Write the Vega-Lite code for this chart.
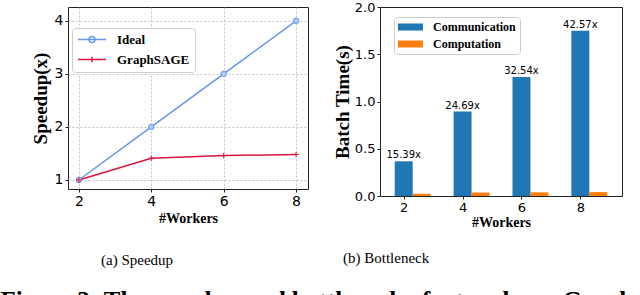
{
  "$schema": "https://vega.github.io/schema/vega-lite/v6.json",
  "background": "white",
  "padding": {"left": 0, "top": 0, "right": 5, "bottom": 0},
  "autosize": {"type": "pad"},
  "title": {"text": "Figure 3: The speedup and bottleneck of a two-layer Graph", "orient": "bottom", "anchor": "start", "font": "Liberation Serif", "fontSize": 25, "fontWeight": "bold", "color": "black", "offset": 20, "dx": -30},
  "datasets": {
    "speedup": [
      {"workers": 2, "speedup": 1.0, "method": "Ideal"},
      {"workers": 4, "speedup": 2.0, "method": "Ideal"},
      {"workers": 6, "speedup": 3.0, "method": "Ideal"},
      {"workers": 8, "speedup": 4.0, "method": "Ideal"},
      {"workers": 2, "speedup": 1.0, "method": "GraphSAGE"},
      {"workers": 4, "speedup": 1.41, "method": "GraphSAGE"},
      {"workers": 6, "speedup": 1.46, "method": "GraphSAGE"},
      {"workers": 8, "speedup": 1.48, "method": "GraphSAGE"}
    ],
    "bottleneck": [
      {"workers": "2", "part": "Communication", "time": 0.367, "ratio": "15.39x"},
      {"workers": "4", "part": "Communication", "time": 0.894, "ratio": "24.69x"},
      {"workers": "6", "part": "Communication", "time": 1.258, "ratio": "32.54x"},
      {"workers": "8", "part": "Communication", "time": 1.749, "ratio": "42.57x"},
      {"workers": "2", "part": "Computation", "time": 0.024, "ratio": ""},
      {"workers": "4", "part": "Computation", "time": 0.036, "ratio": ""},
      {"workers": "6", "part": "Computation", "time": 0.039, "ratio": ""},
      {"workers": "8", "part": "Computation", "time": 0.041, "ratio": ""}
    ]
  },
  "spacing": 23,
  "resolve": {"scale": {"color": "independent", "shape": "independent"}, "legend": {"color": "independent", "shape": "independent"}},
  "hconcat": [
    {
      "width": 240,
      "height": 182,
      "title": {"text": "(a)  Speedup", "orient": "bottom", "anchor": "start", "frame": "group", "dx": 33, "offset": 28, "font": "Liberation Serif", "fontSize": 15, "fontWeight": "normal", "color": "black"},
      "data": {"name": "speedup"},
      "encoding": {
        "x": {"field": "workers", "type": "quantitative", "scale": {"domain": [1.7, 8.33], "nice": false, "zero": false},
          "axis": {"values": [2, 4, 6, 8], "title": "#Workers", "grid": true, "gridDash": [2, 2], "gridColor": "#aaaaaa", "gridWidth": 0.7, "titlePadding": 3}},
        "y": {"field": "speedup", "type": "quantitative", "scale": {"domain": [0.83, 4.26], "nice": false, "zero": false},
          "axis": {"values": [1, 2, 3, 4], "format": "d", "title": "Speedup(x)", "grid": true, "gridDash": [2, 2], "gridColor": "#aaaaaa", "gridWidth": 0.7, "titlePadding": 4}}
      },
      "layer": [
        {
          "mark": {"type": "line", "strokeWidth": 1.5},
          "encoding": {
            "color": {"field": "method", "type": "nominal", "scale": {"domain": ["Ideal", "GraphSAGE"], "range": ["#6495ED", "#DC143C"]},
              "legend": {"orient": "none", "legendX": 4, "legendY": 21, "title": null, "symbolSize": 784, "symbolOpacity": 1, "symbolStrokeWidth": 1.5, "clipHeight": 13, "labelFont": "Liberation Serif", "labelFontWeight": "bold", "labelFontSize": 13, "labelColor": "black", "labelOffset": 10, "rowPadding": 6, "padding": 5, "strokeColor": "#cccccc", "cornerRadius": 3, "fillColor": "white"}}
          }
        },
        {
          "transform": [{"filter": "datum.method === 'Ideal'"}],
          "mark": {"type": "point", "shape": "circle", "filled": true, "fill": "#b3c9f5", "stroke": "#6495ED", "strokeWidth": 1, "size": 30, "opacity": 1}
        },
        {
          "transform": [{"filter": "datum.method === 'GraphSAGE'"}],
          "mark": {"type": "point", "shape": "M-1,0H1M0,-1V1", "filled": false, "stroke": "#DC143C", "strokeWidth": 1, "size": 30, "opacity": 1}
        },
        {
          "mark": {"type": "point", "opacity": 0, "filled": false, "strokeWidth": 1.5},
          "encoding": {
            "color": {"field": "method", "type": "nominal"},
            "shape": {"field": "method", "type": "nominal", "scale": {"domain": ["Ideal", "GraphSAGE"], "range": ["M-1,0H1M-0.22,0A0.22,0.22,0,1,1,0.22,0A0.22,0.22,0,1,1,-0.22,0", "M-1,0H1M0,-0.2V0.2"]}}
          }
        }
      ]
    },
    {
      "width": 242,
      "height": 189,
      "title": {"text": "(b)  Bottleneck", "orient": "bottom", "anchor": "start", "frame": "group", "dx": -37, "offset": 22, "font": "Liberation Serif", "fontSize": 15, "fontWeight": "normal", "color": "black"},
      "data": {"name": "bottleneck"},
      "encoding": {
        "x": {"field": "workers", "type": "ordinal", "scale": {"paddingInner": 0.39, "paddingOuter": 0.25},
          "axis": {"tickOffset": -9, "labelAngle": 0, "title": "#Workers", "labelFontSize": 13, "titlePadding": 1}},
        "y": {"field": "time", "type": "quantitative", "scale": {"domain": [0, 2], "nice": false},
          "axis": {"values": [0, 0.5, 1, 1.5, 2], "format": ".1f", "title": "Batch Time(s)", "grid": false, "labelFontSize": 13, "titlePadding": 2}}
      },
      "layer": [
        {
          "mark": {"type": "bar"},
          "encoding": {
            "xOffset": {"field": "part", "type": "nominal", "scale": {"domain": ["Communication", "Computation"], "paddingInner": 0, "paddingOuter": 0}},
            "color": {"field": "part", "type": "nominal", "scale": {"domain": ["Communication", "Computation"], "range": ["#1f77b4", "#ff7f0e"]},
              "legend": {"orient": "none", "legendX": 14, "legendY": 10, "title": null, "symbolType": "M-1,-0.28H1V0.28H-1Z", "symbolSize": 625, "symbolStrokeWidth": 0, "clipHeight": 12, "labelFont": "Liberation Serif", "labelFontWeight": "bold", "labelFontSize": 12, "labelColor": "black", "labelOffset": 10, "rowPadding": 5, "padding": 4, "strokeColor": "#cccccc", "cornerRadius": 3, "fillColor": "white"}}
          }
        },
        {
          "transform": [{"filter": "datum.part === 'Communication'"}],
          "mark": {"type": "text", "baseline": "bottom", "dy": -1, "font": "DejaVu Sans", "fontSize": 10, "color": "black"},
          "encoding": {
            "x": {"field": "workers", "type": "ordinal", "bandPosition": 0.25},
            "text": {"field": "ratio"}
          }
        }
      ]
    }
  ],
  "config": {
    "font": "DejaVu Sans",
    "view": {"stroke": "#222222", "strokeWidth": 1},
    "axis": {"domain": false, "tickColor": "#222222", "tickSize": 3, "labelPadding": 2, "labelFont": "DejaVu Sans", "labelColor": "black", "labelFontSize": 14, "titleFont": "Liberation Serif", "titleFontWeight": "bold", "titleColor": "black"},
    "axisX": {"titleFontSize": 14},
    "axisY": {"titleFontSize": 19}
  }
}
